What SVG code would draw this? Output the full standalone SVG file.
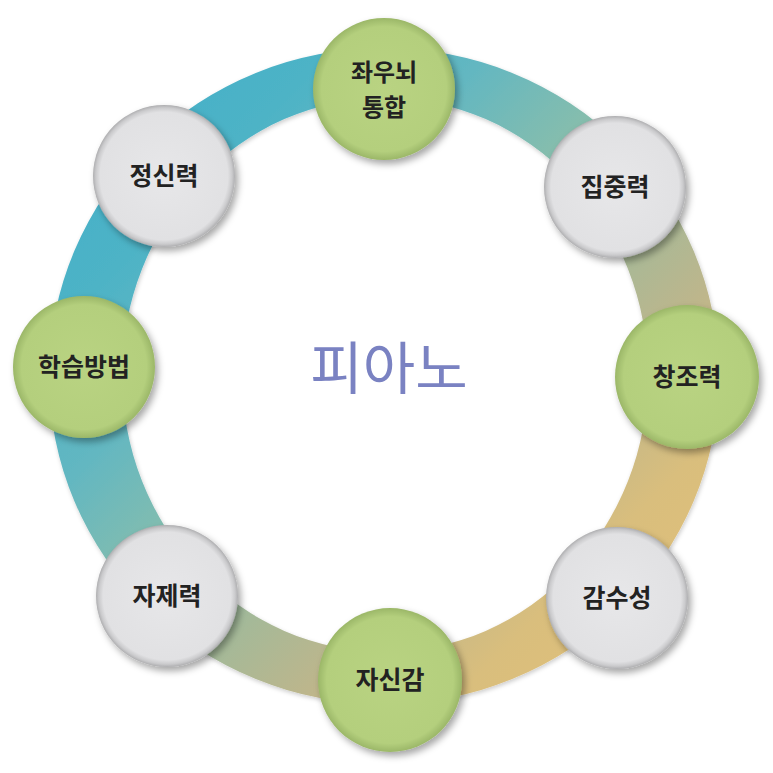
<svg xmlns="http://www.w3.org/2000/svg" width="773" height="773" viewBox="0 0 773 773">
  <defs>
    <linearGradient id="ringGrad" gradientUnits="userSpaceOnUse" x1="60" y1="60" x2="710" y2="700">
      <stop offset="0" stop-color="#42aecb"/>
      <stop offset="0.2" stop-color="#4db3c6"/>
      <stop offset="0.33" stop-color="#63b7c1"/>
      <stop offset="0.45" stop-color="#84bdae"/>
      <stop offset="0.58" stop-color="#a5b998"/>
      <stop offset="0.68" stop-color="#bdb68c"/>
      <stop offset="0.8" stop-color="#d9be7d"/>
      <stop offset="1" stop-color="#e6c173"/>
    </linearGradient>
    <radialGradient id="greenGrad" cx="0.5" cy="0.5" r="0.5">
      <stop offset="0" stop-color="#b9d382"/>
      <stop offset="0.88" stop-color="#b4cf7d"/>
      <stop offset="1" stop-color="#9bb768"/>
    </radialGradient>
    <radialGradient id="grayGrad" cx="0.5" cy="0.5" r="0.5">
      <stop offset="0" stop-color="#e7e7e9"/>
      <stop offset="0.9" stop-color="#e1e1e3"/>
      <stop offset="0.96" stop-color="#cacacc"/>
      <stop offset="1" stop-color="#aeaeb0"/>
    </radialGradient>
    <filter id="shadow" x="-30%" y="-30%" width="160%" height="160%">
      <feDropShadow dx="3" dy="4" stdDeviation="3.5" flood-color="#000" flood-opacity="0.35"/>
    </filter>
    <filter id="ringShadow" x="-10%" y="-10%" width="120%" height="120%">
      <feDropShadow dx="1" dy="2" stdDeviation="2" flood-color="#000" flood-opacity="0.2"/>
    </filter>
  </defs>
  <style>
    .green { fill: url(#greenGrad); filter: url(#shadow); }
    .gray { fill: url(#grayGrad); filter: url(#shadow); }
    .lbl { font-family: "Noto Sans CJK KR", "Noto Sans", sans-serif; font-size: 25px; font-weight: 700; fill: #222222; text-anchor: middle; }
    .lbl2 { font-size: 24px; }
    .center { font-family: "Noto Sans CJK KR", "Noto Sans", sans-serif; font-size: 57px; font-weight: 400; fill: #7a82c2; text-anchor: middle; }
  </style>
  <rect width="773" height="773" fill="#ffffff"/>

  <g id="connectors">
    <path id="ring" fill="url(#ringGrad)" fill-rule="evenodd" filter="url(#ringShadow)"
      d="M 49 376 A 335 328 0 1 0 719 376 A 335 328 0 1 0 49 376 Z
         M 122 375 A 263 277 0 1 1 648 375 A 263 277 0 1 1 122 375 Z"/>
  </g>

  <g id="center-label">
    <text class="center" x="389" y="389">피아노</text>
  </g>

  <g id="node-jwaunoe">
    <circle class="green" cx="384" cy="89" r="71"/>
    <text class="lbl lbl2" x="384" y="81">좌우뇌</text>
    <text class="lbl lbl2" x="384" y="116">통합</text>
  </g>
  <g id="node-jipjungryeok">
    <circle class="gray" cx="615" cy="187" r="71"/>
    <text class="lbl" x="615" y="196">집중력</text>
  </g>
  <g id="node-changjoryeok">
    <circle class="green" cx="687" cy="377" r="72"/>
    <text class="lbl" x="687" y="386">창조력</text>
  </g>
  <g id="node-gamsuseong">
    <circle class="gray" cx="617" cy="598" r="71"/>
    <text class="lbl" x="617" y="607">감수성</text>
  </g>
  <g id="node-jasingam">
    <circle class="green" cx="390" cy="680" r="72"/>
    <text class="lbl" x="390" y="689">자신감</text>
  </g>
  <g id="node-jajeryeok">
    <circle class="gray" cx="167" cy="596" r="71"/>
    <text class="lbl" x="167" y="605">자제력</text>
  </g>
  <g id="node-hakseupbangbeop">
    <circle class="green" cx="84" cy="367" r="71"/>
    <text class="lbl" x="84" y="376">학습방법</text>
  </g>
  <g id="node-jeongsinryeok">
    <circle class="gray" cx="164" cy="176" r="71"/>
    <text class="lbl" x="164" y="185">정신력</text>
  </g>
</svg>
